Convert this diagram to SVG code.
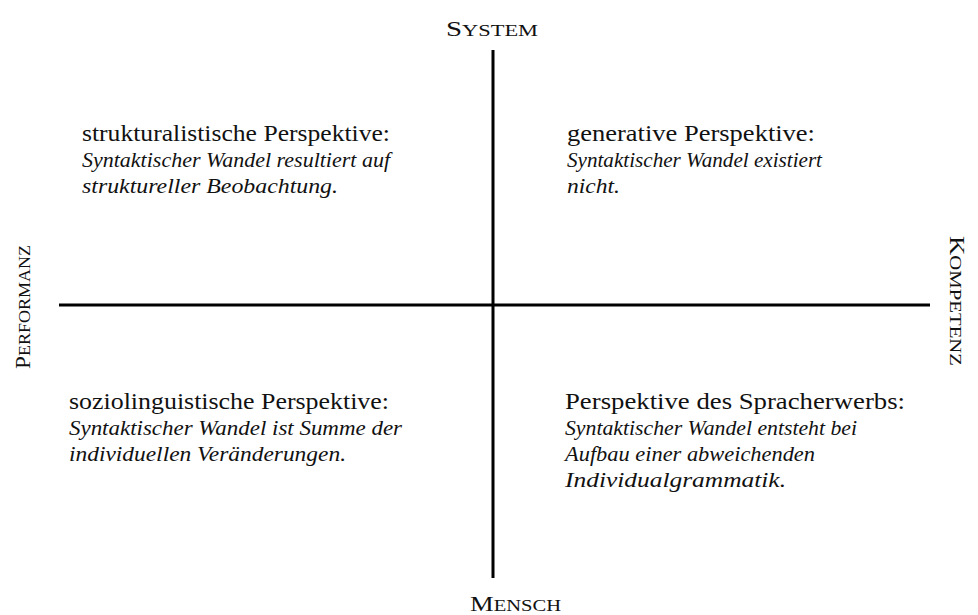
<svg xmlns="http://www.w3.org/2000/svg" width="978" height="615" viewBox="0 0 978 615">
<style>
.ax{stroke:#000;stroke-width:3;fill:none}
.lab{font-family:"Liberation Serif","Times New Roman",serif;font-size:22px;fill:#111}
.sm{font-size:17px}
.head{font-family:"Liberation Serif","Times New Roman",serif;font-size:23px;fill:#111}
.it{font-family:"Liberation Serif","Times New Roman",serif;font-style:italic;font-size:20px;fill:#111}
</style>
<rect width="978" height="615" fill="#fff"/>
<g id="connectors">
<line class="ax" x1="493" y1="50" x2="493" y2="578"/>
<line class="ax" x1="59" y1="305" x2="930" y2="305"/>
</g>
<g id="system"><text class="lab" x="446" y="36" textLength="92" lengthAdjust="spacingAndGlyphs">S<tspan class="sm">YSTEM</tspan></text></g>
<g id="mensch"><text class="lab" x="470" y="611" textLength="91" lengthAdjust="spacingAndGlyphs">M<tspan class="sm">ENSCH</tspan></text></g>
<g id="performanz"><text class="lab" transform="translate(30,369) rotate(-90)" x="0" y="0" textLength="124" lengthAdjust="spacingAndGlyphs">P<tspan class="sm">ERFORMANZ</tspan></text></g>
<g id="kompetenz"><text class="lab" transform="translate(950,236) rotate(90)" x="0" y="0" textLength="130" lengthAdjust="spacingAndGlyphs">K<tspan class="sm">OMPETENZ</tspan></text></g>
<g id="q1">
<text class="head" x="82" y="141" textLength="308" lengthAdjust="spacingAndGlyphs">strukturalistische Perspektive:</text>
<text class="it" x="82" y="167" textLength="308" lengthAdjust="spacingAndGlyphs">Syntaktischer Wandel resultiert auf</text>
<text class="it" x="82" y="193" textLength="256" lengthAdjust="spacingAndGlyphs">struktureller Beobachtung.</text>
</g>
<g id="q2">
<text class="head" x="567" y="141" textLength="248" lengthAdjust="spacingAndGlyphs">generative Perspektive:</text>
<text class="it" x="567" y="167" textLength="255" lengthAdjust="spacingAndGlyphs">Syntaktischer Wandel existiert</text>
<text class="it" x="567" y="193" textLength="53" lengthAdjust="spacingAndGlyphs">nicht.</text>
</g>
<g id="q3">
<text class="head" x="69" y="409" textLength="320" lengthAdjust="spacingAndGlyphs">soziolinguistische  Perspektive:</text>
<text class="it" x="69" y="435" textLength="333" lengthAdjust="spacingAndGlyphs">Syntaktischer Wandel ist Summe der</text>
<text class="it" x="69" y="461" textLength="277" lengthAdjust="spacingAndGlyphs">individuellen Veränderungen.</text>
</g>
<g id="q4">
<text class="head" x="565" y="409" textLength="340" lengthAdjust="spacingAndGlyphs">Perspektive des Spracherwerbs:</text>
<text class="it" x="565" y="435" textLength="292" lengthAdjust="spacingAndGlyphs">Syntaktischer Wandel entsteht bei</text>
<text class="it" x="565" y="461" textLength="250" lengthAdjust="spacingAndGlyphs">Aufbau einer abweichenden</text>
<text class="it" x="565" y="487" textLength="221" lengthAdjust="spacingAndGlyphs">Individualgrammatik.</text>
</g>
</svg>
